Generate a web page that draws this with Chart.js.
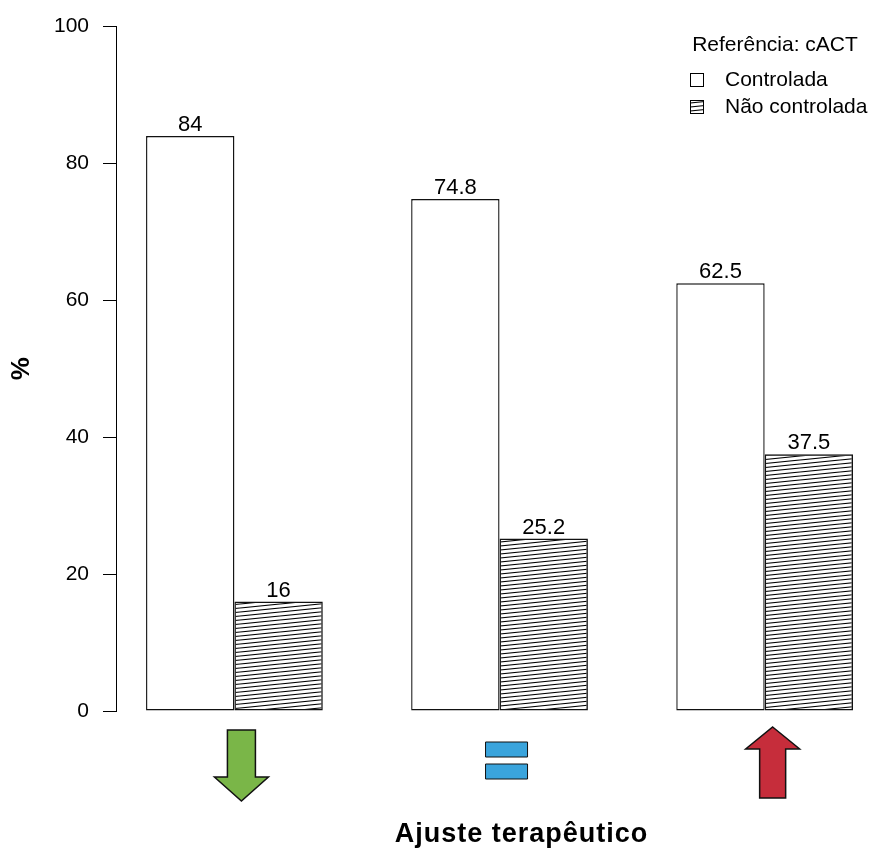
<!DOCTYPE html>
<html>
<head>
<meta charset="utf-8">
<script src="https://cdn.jsdelivr.net/npm/chart.js@4"></script>
<style>
  html, body { margin: 0; padding: 0; background: #fff; }
</style>
</head>
<body>
<canvas id="chart" width="873" height="852"></canvas>
<script>
// therapeutic adjustment per group (drawn as arrows under the bars)
const adjustments = ['diminuir', 'manter', 'aumentar'];
const seriesNames = ['Controlada', 'Não controlada'];
const controlled = [84, 74.8, 62.5];
const uncontrolled = [16, 25.2, 37.5];
const legendTitle = 'Referência: cACT';
const yTitle = '%';
const xTitle = 'Ajuste terapêutico';

const FONT = '"Liberation Sans", Arial, sans-serif';

// R style dense hatching (lines at a small angle)
function makeHatch() {
    const tile = document.createElement('canvas');
    tile.width = 40;
    tile.height = 4;
    const g = tile.getContext('2d');
    g.strokeStyle = '#000';
    g.lineWidth = 1.1;
    [-4, 0, 4].forEach(dy => {
        g.beginPath();
        g.moveTo(0, 4 + dy);
        g.lineTo(40, dy);
        g.stroke();
    });
    return g.createPattern(tile, 'repeat');
}

const hatch = makeHatch();

// barplot(beside = TRUE): one unit gap, then two bars of width 1
const groupCenter = i => i * 3 + 2;

const valueLabels = {
    id: 'valueLabels',
    afterDatasetsDraw(chart) {
        const ctx = chart.ctx;
        ctx.save();
        ctx.font = '22px ' + FONT;
        ctx.fillStyle = '#000';
        ctx.textAlign = 'center';
        ctx.textBaseline = 'bottom';
        chart.data.datasets.forEach((ds, d) => {
            chart.getDatasetMeta(d).data.forEach((bar, i) => {
                ctx.fillText(String(ds.data[i].y), bar.x, bar.y);
            });
        });
        ctx.restore();
    }
};

const arrows = {
    id: 'arrows',
    afterDraw(chart) {
        const ctx = chart.ctx;
        const x = chart.scales.x;
        const b = chart.chartArea.bottom;
        ctx.save();
        ctx.lineWidth = 1.5;
        ctx.strokeStyle = '#111';
        ctx.lineJoin = 'miter';
        adjustments.forEach((kind, i) => {
            const c = x.getPixelForValue(groupCenter(i));
            ctx.beginPath();
            if (kind === 'diminuir') {
                const cx = c + 7;
                ctx.moveTo(cx - 14, b + 19);
                ctx.lineTo(cx + 14, b + 19);
                ctx.lineTo(cx + 14, b + 66);
                ctx.lineTo(cx + 27, b + 66);
                ctx.lineTo(cx, b + 90);
                ctx.lineTo(cx - 27, b + 66);
                ctx.lineTo(cx - 14, b + 66);
                ctx.closePath();
                ctx.fillStyle = '#7AB648';
                ctx.fill();
                ctx.stroke();
            } else if (kind === 'manter') {
                const cx = c + 7;
                ctx.fillStyle = '#3AA4DC';
                ctx.lineWidth = 1;
                ctx.rect(cx - 21, b + 31, 42, 15);
                ctx.rect(cx - 21, b + 53, 42, 15);
                ctx.fill();
                ctx.stroke();
                ctx.lineWidth = 1.5;
            } else {
                const cx = c + 8;
                ctx.moveTo(cx, b + 16);
                ctx.lineTo(cx + 27, b + 38);
                ctx.lineTo(cx + 13, b + 38);
                ctx.lineTo(cx + 13, b + 87);
                ctx.lineTo(cx - 13, b + 87);
                ctx.lineTo(cx - 13, b + 38);
                ctx.lineTo(cx - 27, b + 38);
                ctx.closePath();
                ctx.fillStyle = '#C62D3B';
                ctx.fill();
                ctx.stroke();
            }
        });

        // x axis title under the arrows
        const mid = (x.getPixelForValue(groupCenter(0) - 1) + x.getPixelForValue(groupCenter(adjustments.length - 1) + 1)) / 2;
        ctx.font = 'bold 27px ' + FONT;
        ctx.letterSpacing = '1px';
        ctx.fillStyle = '#000';
        ctx.textAlign = 'center';
        ctx.textBaseline = 'middle';
        ctx.fillText(xTitle, mid + 22, 835);
        ctx.restore();
    }
};

const boxLegend = {
    id: 'boxLegend',
    afterDraw(chart) {
        const ctx = chart.ctx;
        ctx.save();
        ctx.font = '21px ' + FONT;
        ctx.fillStyle = '#000';
        ctx.textBaseline = 'middle';
        ctx.textAlign = 'center';
        ctx.fillText(legendTitle, 775, 45);
        ctx.textAlign = 'left';
        chart.data.datasets.forEach((ds, k) => {
            const y = 80 + k * 27;
            ctx.fillStyle = ds.backgroundColor;
            ctx.fillRect(690.5, y - 6.5, 13, 13);
            ctx.strokeStyle = '#000';
            ctx.lineWidth = 1;
            ctx.strokeRect(690.5, y - 6.5, 13, 13);
            ctx.fillStyle = '#000';
            ctx.fillText(ds.label, 725, y);
        });
        ctx.restore();
    }
};

new Chart(document.getElementById('chart'), {
    type: 'bar',
    data: {
        datasets: [
            {
                label: seriesNames[0],
                data: controlled.map((v, i) => ({ x: groupCenter(i), y: v })),
                backgroundColor: '#ffffff',
                borderColor: '#111',
                borderWidth: 1.4,
                borderSkipped: false
            },
            {
                label: seriesNames[1],
                data: uncontrolled.map((v, i) => ({ x: groupCenter(i), y: v })),
                backgroundColor: hatch,
                borderColor: '#111',
                borderWidth: 1.4,
                borderSkipped: false
            }
        ]
    },
    options: {
        responsive: false,
        animation: false,
        devicePixelRatio: 1,
        categoryPercentage: 2 / 3,
        barPercentage: 1,
        layout: { padding: { top: 25, right: 0, bottom: 141, left: 0 } },
        plugins: {
            legend: { display: false },
            tooltip: { enabled: false }
        },
        scales: {
            x: {
                type: 'linear',
                display: false,
                offset: false,
                min: 0.66,
                max: 9.226,
                afterBuildTicks: s => {
                    s.ticks = adjustments.map((a, i) => ({ value: groupCenter(i) }));
                }
            },
            y: {
                min: 0,
                max: 100,
                ticks: {
                    stepSize: 20,
                    color: '#000',
                    padding: 14,
                    font: { family: FONT, size: 21 }
                },
                grid: {
                    drawOnChartArea: false,
                    drawTicks: true,
                    tickLength: 13,
                    color: '#000'
                },
                border: { display: true, color: '#000', width: 1 },
                title: {
                    display: true,
                    text: yTitle,
                    color: '#000',
                    font: { family: FONT, size: 26, weight: 'bold' },
                    padding: { top: 6, bottom: 0 }
                },
                afterFit: s => { s.width = 116; }
            }
        }
    },
    plugins: [valueLabels, arrows, boxLegend]
});
</script>
</body>
</html>
